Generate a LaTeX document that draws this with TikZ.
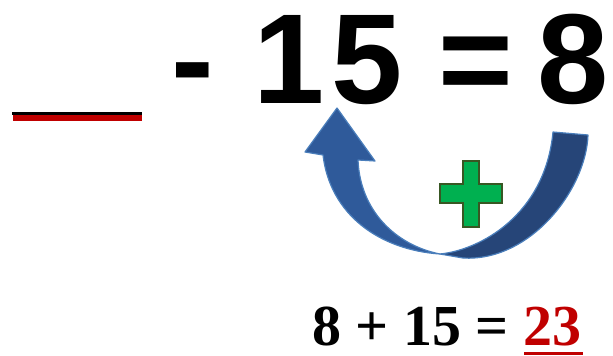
\documentclass[tikz,border=0pt]{standalone}
\usepackage{fontspec}
\setmainfont{Liberation Serif}
\newfontfamily\arialfont{Liberation Sans}
\definecolor{darkred}{HTML}{C00000}
\definecolor{arrowfront}{HTML}{2F5A9A}
\definecolor{arrowback}{HTML}{264578}
\definecolor{arrowline}{HTML}{4A7EBB}
\definecolor{plusgreen}{HTML}{00B050}
\definecolor{plusline}{HTML}{385723}
\begin{document}
\begin{tikzpicture}[x=1pt,y=-1pt,
  ribbon/.style={draw=arrowline,line width=1.2pt,line join=round},
  bigtext/.style={inner sep=0pt,anchor=base west,text depth=0pt,font=\arialfont\bfseries\fontsize{128}{128}\selectfont},
  smalltext/.style={inner sep=0pt,anchor=base west,text depth=0pt,font=\bfseries\fontsize{58}{58}\selectfont}]
\useasboundingbox (0,0) rectangle (613,356);
% blank line
\fill[black] (12,112) rectangle (142,115);
\fill[darkred] (13,115) rectangle (142,121);
% top equation
\node[bigtext] (eq) at (171,103) {-\kern4pt{} 1\kern7pt 5 =\kern-11pt{} 8};
% back part of ribbon (darker)
\path[ribbon,fill=arrowback]
  (553,132) -- (588,135)
  .. controls (586,190) and (530,262) .. (463,258)
  -- (440,254)
  .. controls (480,250) and (545,215) .. (553,132) -- cycle;
% front part of ribbon with arrow head
\path[ribbon,fill=arrowfront]
  (440,254) .. controls (395,245) and (360,210) .. (358,160)
  -- (375,161) -- (337,108) -- (305,152) -- (323,155)
  .. controls (330,215) and (380,250) .. (440,254) -- cycle;
% green plus
\path[draw=plusline,line width=1.5pt,fill=plusgreen]
  (463,161) -- (479,161) -- (479,184) -- (502,184) -- (502,203) -- (479,203)
  -- (479,227) -- (463,227) -- (463,203) -- (440,203) -- (440,184) -- (463,184) -- cycle;
% bottom equation
\node[smalltext] (ans) at (312,345) {8 + 15 = \textcolor{darkred}{23}};
\fill[darkred] (524,352) rectangle (583,355);
\end{tikzpicture}
\end{document}
